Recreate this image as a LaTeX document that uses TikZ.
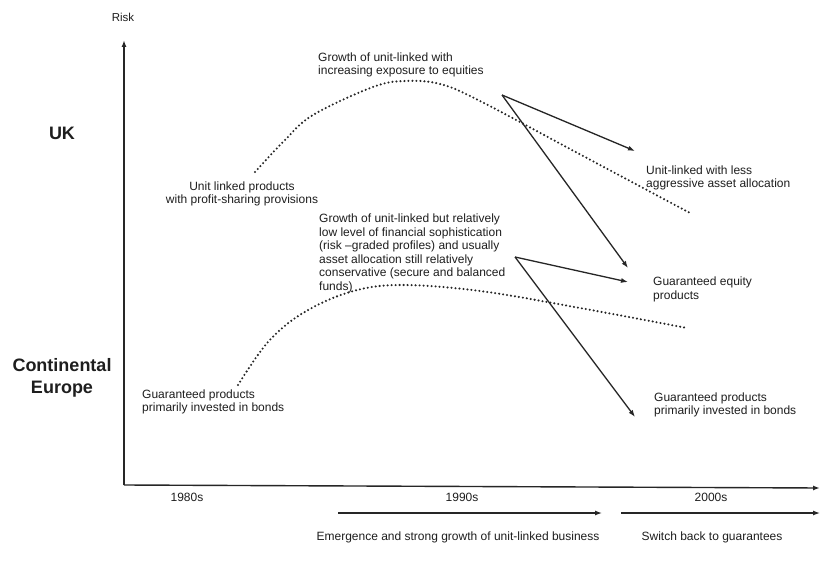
\documentclass[tikz,border=0pt]{standalone}
\usepackage{fontspec}
\setmainfont{Liberation Sans}
\usetikzlibrary{arrows.meta}
\definecolor{ink}{HTML}{1E1E1E}
\definecolor{lineink}{HTML}{262626}
\tikzset{
  txt/.style={font=\fontsize{12}{13.4}\selectfont, text=ink, inner sep=0pt, align=left, anchor=base west},
  ctxt/.style={font=\fontsize{12}{13.4}\selectfont, text=ink, inner sep=0pt, align=center, anchor=base},
  big/.style={font=\fontsize{18}{22}\selectfont\bfseries, text=ink, inner sep=0pt, align=center, anchor=base},
  axis/.style={draw=lineink, line width=1.4pt, -{Latex[length=7pt,width=5pt]}},
  arr/.style={draw=lineink, line width=1.3pt, -{Latex[length=7pt,width=5pt]}},
  dots/.style={draw=lineink, line width=2.3pt, line cap=round, dash pattern=on 0pt off 4pt}
}
\begin{document}
\begin{tikzpicture}[x=1pt,y=-1pt]
\useasboundingbox[fill=white] (0,0) rectangle (837,561);
% axes
\coordinate (o) at (124,485);
\coordinate (ytop) at (124,40);
\coordinate (xend) at (820,488);
\draw[axis] (o) -- (ytop);
\draw[axis] (o) -- (xend);
\node[ctxt, font=\fontsize{11.5}{13}\selectfont] (risk) at (123,22) {Risk};
% region labels (base anchor = last line baseline)
\node[big] (uk) at (62,139.5) {UK};
\node[big] (ce) at (62,393.4) {Continental\\Europe};
% period labels
\node[ctxt] (y80) at (187,501.5) {1980s};
\node[ctxt] (y90) at (462,501.5) {1990s};
\node[ctxt] (y00) at (711,501.5) {2000s};
\coordinate (a1s) at (338,513);
\coordinate (a1e) at (602,513);
\coordinate (a2s) at (621,513);
\coordinate (a2e) at (820,513);
\draw[arr] (a1s) -- (a1e);
\draw[arr] (a2s) -- (a2e);
\node[ctxt] (emerg) at (458,540) {Emergence and strong growth of unit-linked business};
\node[ctxt] (switch) at (712,540) {Switch back to guarantees};
% texts
\node[ctxt, font=\fontsize{12}{12.5}\selectfont] (ulp) at (242,203.5) {Unit linked products\\with profit-sharing provisions};
\node[txt, font=\fontsize{12}{13}\selectfont] (g1) at (318,75) {Growth of unit-linked with\\increasing exposure to equities};
\node[txt, font=\fontsize{12}{13}\selectfont] (less) at (646,188) {Unit-linked with less\\aggressive asset allocation};
\node[txt] (g2) at (319,290) {Growth of unit-linked but relatively\\low level of financial sophistication\\(risk --graded profiles) and usually\\asset allocation still relatively\\conservative (secure and balanced\\funds)};
\node[txt, font=\fontsize{12}{14}\selectfont] (geq) at (653,299) {Guaranteed equity\\products};
\node[txt, font=\fontsize{12}{13}\selectfont] (gpr) at (654,414) {Guaranteed products\\primarily invested in bonds};
\node[txt, font=\fontsize{12}{13}\selectfont] (gpl) at (142,411) {Guaranteed products\\primarily invested in bonds};
% dotted curves
\draw[dots] plot[smooth, tension=0.6] coordinates {(255,172) (284,141) (313,115) (373,87) (405,81) (440,84) (480,101) (585,157) (690,213)};
\draw[dots] plot[smooth, tension=0.6] coordinates {(238,385) (268,342) (303,313) (350,292) (400,285) (480,291) (580,308) (687,328)};
% arrows
\coordinate (u0) at (502,95);
\coordinate (u1) at (635,151);
\coordinate (u2) at (628,268);
\coordinate (l0) at (515,257);
\coordinate (l1) at (628,282);
\coordinate (l2) at (635,417);
\draw[arr] (u0) -- (u1);
\draw[arr] (u0) -- (u2);
\draw[arr] (l0) -- (l1);
\draw[arr] (l0) -- (l2);
\end{tikzpicture}
\end{document}
